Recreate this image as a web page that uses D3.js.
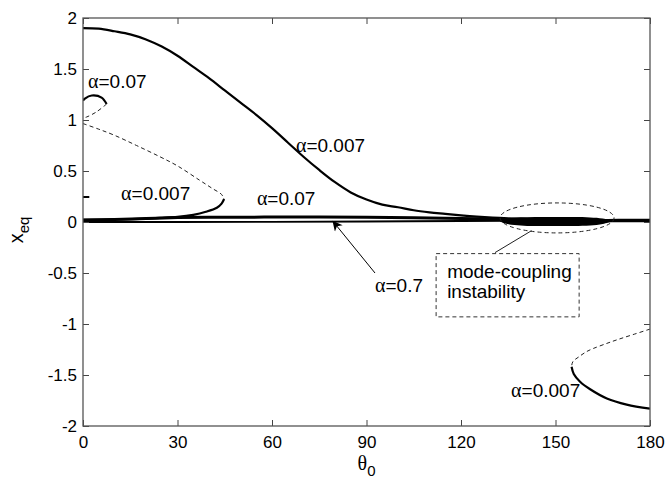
<!DOCTYPE html>
<html>
<head>
<meta charset="utf-8">
<script src="https://cdn.jsdelivr.net/npm/d3@7"></script>
<style>
    body { margin: 0; background: #fff; }
    text { font-family: "Liberation Sans", Arial, sans-serif; fill: #000; }
</style>
</head>
<body>
<div id="chart"></div>
<script>
// axis ticks
var xTicks = [0, 30, 60, 90, 120, 150, 180];
var yTicks = [-2, -1.5, -1, -0.5, 0, 0.5, 1, 1.5, 2];

// alpha = 0.007, upper stable branch
var a0007UpTheta = [0, 5, 10, 15, 20, 25, 30, 35, 40, 45, 50, 55, 60, 65, 70, 75, 80, 85, 90, 95, 100, 105, 110, 115, 120, 125, 130, 135, 140, 150, 160, 170, 180];
var a0007UpX = [1.90, 1.895, 1.87, 1.84, 1.79, 1.72, 1.63, 1.52, 1.41, 1.29, 1.17, 1.05, 0.92, 0.78, 0.64, 0.51, 0.39, 0.29, 0.22, 0.17, 0.145, 0.115, 0.095, 0.08, 0.065, 0.052, 0.042, 0.035, 0.03, 0.025, 0.02, 0.02, 0.02];

// alpha = 0.007, left fold: unstable (dashed) then stable (solid)
var a0007LeftDashTheta = [0, 5, 10, 17, 24.4, 30, 37, 41, 44, 44.8];
var a0007LeftDashX = [0.965, 0.91, 0.85, 0.75, 0.64, 0.55, 0.41, 0.33, 0.27, 0.225];
var a0007LeftSolidTheta = [44.8, 44, 42.5, 39, 35, 30, 24.4, 18, 10, 0];
var a0007LeftSolidX = [0.225, 0.18, 0.14, 0.10, 0.07, 0.05, 0.04, 0.03, 0.025, 0.02];

// alpha = 0.007, right fold
var a0007RightDashTheta = [180, 175, 170, 166.3, 162, 159.9, 157.5, 155.5, 155.1];
var a0007RightDashX = [-1.05, -1.10, -1.15, -1.19, -1.24, -1.27, -1.32, -1.37, -1.42];
var a0007RightSolidTheta = [155.1, 155.8, 157.8, 161, 166.3, 172.6, 180];
var a0007RightSolidX = [-1.42, -1.49, -1.566, -1.64, -1.73, -1.79, -1.83];

// alpha = 0.07, small loop near theta = 0
var a007LoopSolidTheta = [0, 0.6, 2.8, 5.9, 7.5];
var a007LoopSolidX = [1.19, 1.21, 1.24, 1.22, 1.157];
var a007LoopDashTheta = [7.5, 4.3, 1.2, 0];
var a007LoopDashX = [1.157, 1.08, 1.03, 1.02];

// alpha = 0.07, branch close to zero
var a007LowTheta = [0, 10, 20, 30, 45, 60, 75, 90, 105, 120, 135, 150, 165, 180];
var a007LowX = [0.02, 0.025, 0.035, 0.043, 0.047, 0.048, 0.048, 0.046, 0.042, 0.035, 0.025, 0.015, 0.012, 0.012];

// alpha = 0.7
var a07Theta = [0, 30, 60, 90, 120, 150, 180];
var a07X = [0.0, 0.0, 0.002, 0.005, 0.01, 0.012, 0.012];
var a07StubTheta = [0, 2];
var a07StubX = [0.245, 0.245];

// mode-coupling band (thick region)
var bandTheta = [132.4, 134, 137, 141, 146, 151, 156, 161, 165, 167.8];
var bandUpper = [0.015, 0.03, 0.042, 0.046, 0.048, 0.048, 0.048, 0.045, 0.035, 0.015];
var bandLower = [0.005, -0.015, -0.03, -0.038, -0.04, -0.04, -0.04, -0.035, -0.02, 0.005];

(function () {
    var width = 667, height = 483;
    var mLeft = 83, mRight = 650, mTop = 18, mBottom = 426;

    var svg = d3.select("#chart").append("svg")
        .attr("width", width)
        .attr("height", height);

    svg.append("rect").attr("width", width).attr("height", height).attr("fill", "#fff");

    var x = d3.scaleLinear().domain([0, 180]).range([mLeft, mRight]);
    var y = d3.scaleLinear().domain([-2, 2]).range([mBottom, mTop]);

    var defs = svg.append("defs");
    defs.append("clipPath").attr("id", "clip")
        .append("rect").attr("x", mLeft).attr("y", mTop).attr("width", mRight - mLeft).attr("height", mBottom - mTop);
    defs.append("marker")
        .attr("id", "arrow")
        .attr("viewBox", "0 0 10 10")
        .attr("refX", 9).attr("refY", 5)
        .attr("markerWidth", 12).attr("markerHeight", 10)
        .attr("markerUnits", "userSpaceOnUse")
        .attr("orient", "auto")
        .append("path").attr("d", "M0,0 L10,5 L0,10 L3,5 Z").attr("fill", "#000");

    var plot = svg.append("g").attr("clip-path", "url(#clip)");

    var line = d3.line()
        .x(function (d) { return x(d[0]); })
        .y(function (d) { return y(d[1]); })
        .curve(d3.curveCatmullRom.alpha(0.5));

    function draw(th, xs, dashed, w) {
        plot.append("path")
            .datum(d3.zip(th, xs))
            .attr("d", line)
            .attr("fill", "none")
            .attr("stroke", dashed ? "#222" : "#000")
            .attr("stroke-width", w)
            .attr("stroke-dasharray", dashed ? "4,3" : null);
    }

    draw(a07Theta, a07X, false, 1.8);
    draw(a07StubTheta, a07StubX, false, 2);
    draw(a007LowTheta, a007LowX, false, 3);
    draw(a007LoopSolidTheta, a007LoopSolidX, false, 2.2);
    draw(a007LoopDashTheta, a007LoopDashX, true, 1);
    draw(a0007UpTheta, a0007UpX, false, 2.2);
    draw(a0007LeftDashTheta, a0007LeftDashX, true, 1);
    draw(a0007LeftSolidTheta, a0007LeftSolidX, false, 2.2);
    draw(a0007RightDashTheta, a0007RightDashX, true, 1);
    draw(a0007RightSolidTheta, a0007RightSolidX, false, 2.2);

    var area = d3.area()
        .x(function (d) { return x(d[0]); })
        .y0(function (d) { return y(d[2]); })
        .y1(function (d) { return y(d[1]); })
        .curve(d3.curveCatmullRom.alpha(0.5));
    plot.append("path")
        .datum(d3.zip(bandTheta, bandUpper, bandLower))
        .attr("d", area)
        .attr("fill", "#000");

    // mode-coupling ellipse + callout
    var ellC = [150.5, 0.04], ellR = [18.1, 0.147];
    plot.append("ellipse")
        .attr("cx", x(ellC[0])).attr("cy", y(ellC[1]))
        .attr("rx", x(ellC[0] + ellR[0]) - x(ellC[0]))
        .attr("ry", y(ellC[1] - ellR[1]) - y(ellC[1]))
        .attr("fill", "none").attr("stroke", "#222")
        .attr("stroke-width", 1).attr("stroke-dasharray", "4,3");

    svg.append("line")
        .attr("x1", x(142.4)).attr("y1", y(-0.085))
        .attr("x2", x(130.8)).attr("y2", y(-0.30))
        .attr("stroke", "#222").attr("stroke-width", 1);

    svg.append("rect")
        .attr("x", x(112.1)).attr("y", y(-0.31))
        .attr("width", x(157.5) - x(112.1))
        .attr("height", y(-0.93) - y(-0.31))
        .attr("fill", "#fff").attr("stroke", "#333")
        .attr("stroke-width", 1).attr("stroke-dasharray", "4,3");

    svg.append("text").attr("x", x(115.6)).attr("y", y(-0.55))
        .attr("font-size", 19).text("mode-coupling");
    svg.append("text").attr("x", x(115.6)).attr("y", y(-0.745))
        .attr("font-size", 19).text("instability");

    // alpha = 0.7 arrow
    svg.append("line")
        .attr("x1", x(92.7)).attr("y1", y(-0.50))
        .attr("x2", x(79.4)).attr("y2", y(0.005))
        .attr("stroke", "#000").attr("stroke-width", 1)
        .attr("marker-end", "url(#arrow)");

    // labels
    var labels = [
        { t: 1.6, v: 1.31, s: "0.07" },
        { t: 67.6, v: 0.69, s: "0.007" },
        { t: 12.1, v: 0.216, s: "0.007" },
        { t: 55.2, v: 0.167, s: "0.07" },
        { t: 92.7, v: -0.686, s: "0.7" },
        { t: 135.9, v: -1.716, s: "0.007" }
    ];
    labels.forEach(function (l) {
        var txt = svg.append("text").attr("x", x(l.t)).attr("y", y(l.v)).attr("font-size", 19);
        txt.append("tspan").attr("font-family", "'Liberation Serif', serif").attr("font-size", 20).text("\u03b1");
        txt.append("tspan").text("=" + l.s);
    });

    // axes, MATLAB style box with inward ticks
    var fmt = function (d) { return String(d); };
    var gx = svg.append("g").attr("transform", "translate(0," + mBottom + ")")
        .call(d3.axisBottom(x).tickValues(xTicks).tickFormat(fmt).tickSizeInner(-6).tickSizeOuter(0).tickPadding(10));
    var gy = svg.append("g").attr("transform", "translate(" + mLeft + ",0)")
        .call(d3.axisLeft(y).tickValues(yTicks).tickFormat(fmt).tickSizeInner(-6).tickSizeOuter(0).tickPadding(6));
    var gt = svg.append("g").attr("transform", "translate(0," + mTop + ")")
        .call(d3.axisTop(x).tickValues(xTicks).tickFormat("").tickSizeInner(-6).tickSizeOuter(0));
    var gr = svg.append("g").attr("transform", "translate(" + mRight + ",0)")
        .call(d3.axisRight(y).tickValues(yTicks).tickFormat("").tickSizeInner(-6).tickSizeOuter(0));

    [gx, gy, gt, gr].forEach(function (g) {
        g.select(".domain").remove();
        g.selectAll(".tick line").attr("stroke", "#444");
        g.selectAll("text").attr("font-size", 17).attr("font-family", "'Liberation Sans', Arial, sans-serif").attr("fill", "#000");
    });

    svg.append("rect")
        .attr("x", mLeft).attr("y", mTop)
        .attr("width", mRight - mLeft).attr("height", mBottom - mTop)
        .attr("fill", "none").attr("stroke", "#555").attr("stroke-width", 1.3);

    // axis titles
    var xt = svg.append("text").attr("x", (mLeft + mRight) / 2).attr("y", 470)
        .attr("text-anchor", "middle").attr("font-size", 20);
    xt.append("tspan").attr("font-family", "'Liberation Serif', serif").text("\u03b8");
    xt.append("tspan").attr("dy", 6).attr("font-size", 15).text("0");

    var yt = svg.append("text")
        .attr("transform", "translate(23,230) rotate(-90)")
        .attr("text-anchor", "middle").attr("font-size", 20);
    yt.append("tspan").text("x");
    yt.append("tspan").attr("dy", 6).attr("font-size", 15).text("eq");
}());
</script>
</body>
</html>
